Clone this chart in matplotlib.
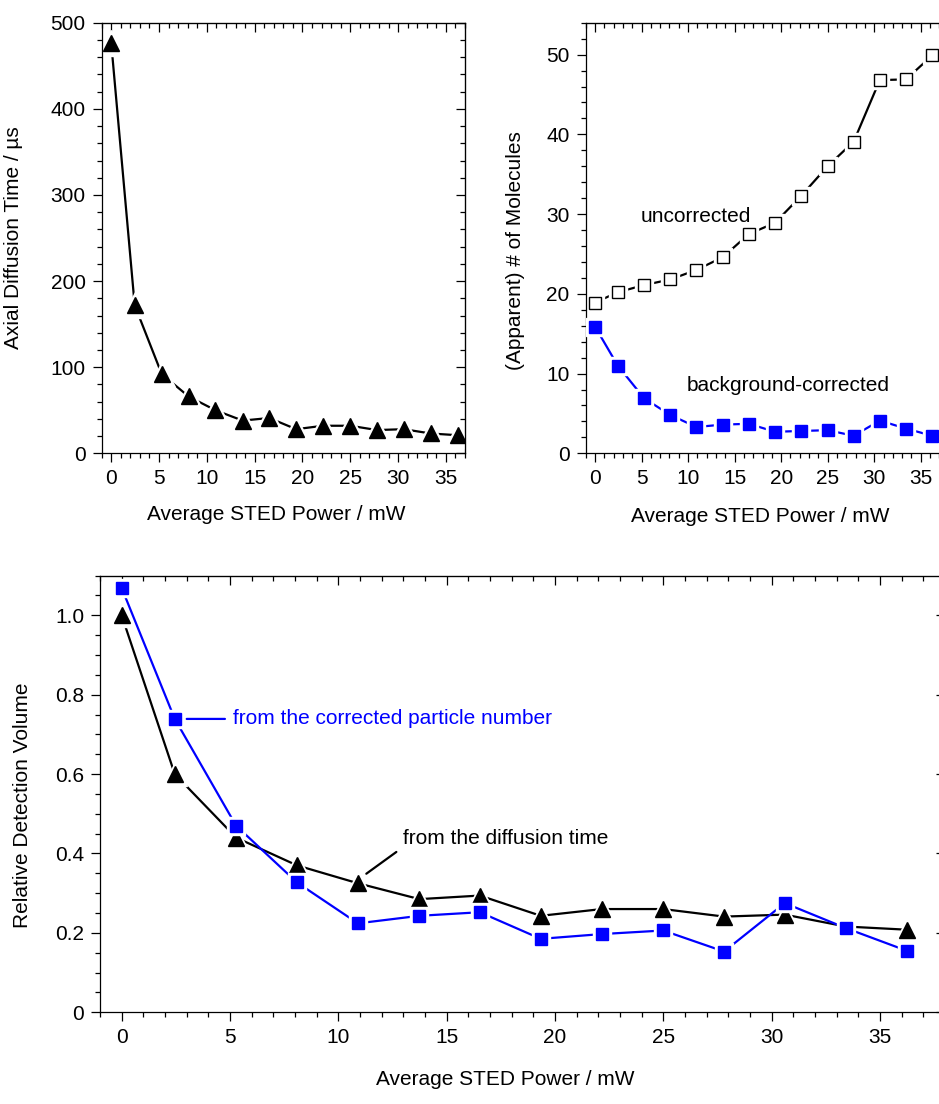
import matplotlib
matplotlib.use('Agg')
import matplotlib.pyplot as plt
from matplotlib.ticker import MultipleLocator

plt.rcParams['font.family'] = ['Liberation Sans', 'DejaVu Sans']
plt.rcParams['font.size'] = 15

# Average STED power (mW)
power = [0, 2.45, 5.28, 8.09, 10.9, 13.74, 16.53, 19.34, 22.16, 24.99, 27.8, 30.6, 33.42, 36.23]

# axial diffusion time (us)
diff_time = [476, 172, 92, 66, 50, 38, 41, 28, 32, 32, 27, 28, 23, 21]

# apparent number of molecules
n_uncorrected = [18.9, 20.2, 21.1, 21.8, 23.0, 24.6, 27.5, 28.9, 32.3, 36.0, 39.1, 46.8, 46.9, 49.9]
n_corrected = [15.9, 11.0, 6.9, 4.8, 3.3, 3.6, 3.7, 2.7, 2.8, 2.9, 2.2, 4.1, 3.1, 2.2]

# relative detection volume
vol_diffusion = [1.0, 0.60, 0.44, 0.37, 0.325, 0.285, 0.294, 0.243, 0.26, 0.26, 0.241, 0.246, 0.216, 0.208]
vol_particles = [1.069, 0.739, 0.47, 0.327, 0.224, 0.243, 0.252, 0.185, 0.197, 0.206, 0.153, 0.275, 0.212, 0.155]

BLUE = '#0000ff'


def series(ax, x, y, marker, ms, color, face, z, halo):
    # line, white halo (gap around markers), marker
    ax.plot(x, y, color=color, lw=1.6, zorder=z)
    ax.plot(x, y, ls='none', marker=marker, ms=ms + halo, mfc='white', mec='white', zorder=z + 0.1)
    ax.plot(x, y, ls='none', marker=marker, ms=ms, mfc=face, mec=color, mew=1.0, zorder=z + 0.2)


def style(ax, xmaj, xmin, ymaj, ymin):
    for s in ax.spines.values():
        s.set_linewidth(0.9)
    ax.xaxis.set_major_locator(MultipleLocator(xmaj))
    ax.xaxis.set_minor_locator(MultipleLocator(xmin))
    ax.yaxis.set_major_locator(MultipleLocator(ymaj))
    ax.yaxis.set_minor_locator(MultipleLocator(ymin))
    ax.tick_params(which='major', direction='out', length=6.5, width=0.9, pad=5)
    ax.tick_params(which='minor', direction='out', length=3.5, width=0.9)
    top = ax.secondary_xaxis('top')
    top.xaxis.set_major_locator(MultipleLocator(xmaj))
    top.xaxis.set_minor_locator(MultipleLocator(xmin))
    top.tick_params(which='major', direction='in', length=6.5, width=0.9, labeltop=False)
    top.tick_params(which='minor', direction='in', length=3.5, width=0.9)
    right = ax.secondary_yaxis('right')
    right.yaxis.set_major_locator(MultipleLocator(ymaj))
    right.yaxis.set_minor_locator(MultipleLocator(ymin))
    right.tick_params(which='major', direction='in', length=6.5, width=0.9, labelright=False)
    right.tick_params(which='minor', direction='in', length=3.5, width=0.9)


fig = plt.figure(figsize=(9.39, 11.04), dpi=100)

# top left: diffusion time
ax1 = fig.add_axes([0.1083, 0.5894, 0.3869, 0.39])
series(ax1, power, diff_time, '^', 11.5, 'black', 'black', 2, 7)
ax1.set_xlim(-1, 37)
ax1.set_ylim(0, 500)
style(ax1, 5, 1, 100, 20)
ax1.set_xlabel('Average STED Power / mW')
ax1.set_ylabel('Axial Diffusion Time / µs')
ax1.xaxis.set_label_coords(0.48, -0.12)
ax1.yaxis.set_label_coords(-0.217, 0.5)

# top right: number of molecules
ax2 = fig.add_axes([0.6237, 0.5894, 0.3866, 0.39])
series(ax2, power, n_uncorrected, 's', 8.4, 'black', 'white', 2, 4)
series(ax2, power, n_corrected, 's', 8.6, BLUE, BLUE, 3, 4)
ax2.set_xlim(-1, 38)
ax2.set_ylim(0, 54)
style(ax2, 5, 1, 10, 2)
ax2.set_xlabel('Average STED Power / mW')
ax2.set_ylabel('(Apparent) # of Molecules')
ax2.xaxis.set_label_coords(0.48, -0.124)
ax2.yaxis.set_label_coords(-0.167, 0.47)
ax2.text(4.9, 29.7, 'uncorrected', va='center', ha='left')
ax2.text(9.85, 8.45, 'background-corrected', va='center', ha='left')

# bottom: relative detection volume
ax3 = fig.add_axes([0.1065, 0.0831, 0.9, 0.3955])
series(ax3, power, vol_diffusion, '^', 11.5, 'black', 'black', 2, 6)
series(ax3, power, vol_particles, 's', 9.0, BLUE, BLUE, 3, 4)
ax3.set_xlim(-1, 38)
ax3.set_ylim(0, 1.1)
style(ax3, 5, 1, 0.2, 0.05)
ax3.set_yticks([0, 0.2, 0.4, 0.6, 0.8, 1.0])
ax3.set_yticklabels(['0', '0.2', '0.4', '0.6', '0.8', '1.0'])
ax3.set_xlabel('Average STED Power / mW')
ax3.set_ylabel('Relative Detection Volume')
ax3.xaxis.set_label_coords(0.48, -0.132)
ax3.yaxis.set_label_coords(-0.08, 0.475)
ax3.annotate('from the corrected particle number', xy=(3.0, 0.739), xytext=(5.15, 0.739),
             color=BLUE, va='center', ha='left',
             arrowprops=dict(arrowstyle='-', color=BLUE, lw=1.6, relpos=(0, 0.5), shrinkA=4, shrinkB=0))
ax3.annotate('from the diffusion time', xy=(11.29, 0.349), xytext=(12.96, 0.439),
             color='black', va='center', ha='left',
             arrowprops=dict(arrowstyle='-', color='black', lw=1.6, relpos=(0, 0), shrinkA=3, shrinkB=0))

fig.savefig('out.png', dpi=100)
